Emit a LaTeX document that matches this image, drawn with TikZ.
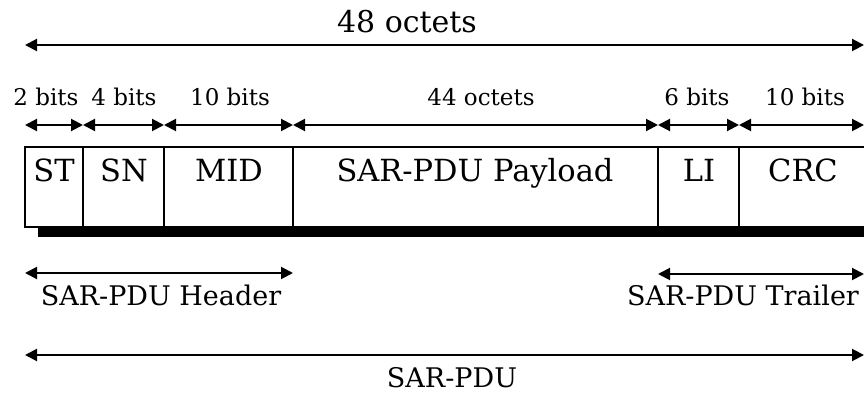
\documentclass[tikz,border=0pt]{standalone}
\usepackage{fontspec}
\setmainfont{DejaVu Serif}
\usetikzlibrary{arrows.meta}
\begin{document}
\begin{tikzpicture}[x=1pt,y=-1pt,
  dim/.style={{Triangle[length=12pt,width=12pt]}-{Triangle[length=12pt,width=12pt]}, line width=2pt},
  field/.style={draw, line width=2pt, fill=white},
  shadow/.style={fill=black},
  boxlbl/.style={anchor=base, inner sep=0pt, font=\fontsize{30.5}{36}\selectfont},
  bitlbl/.style={anchor=base, inner sep=0pt, font=\fontsize{23}{27}\selectfont},
  biglbl/.style={anchor=base, inner sep=0pt, font=\fontsize{30}{36}\selectfont},
  seclbl/.style={anchor=base, inner sep=0pt, font=\fontsize{27}{32}\selectfont}]
\useasboundingbox (0,0) rectangle (864,395);
% division points
\coordinate (a0) at (25,0);
\coordinate (a1) at (83,0);
\coordinate (a2) at (164,0);
\coordinate (a3) at (293,0);
\coordinate (a4) at (658,0);
\coordinate (a5) at (739,0);
\coordinate (a6) at (864,0);
% shadow and fields
\fill[shadow] (38,226) rectangle (880,237);
\draw[field] (25,147) rectangle (83,227);
\draw[field] (83,147) rectangle (164,227);
\draw[field] (164,147) rectangle (293,227);
\draw[field] (293,147) rectangle (658,227);
\draw[field] (658,147) rectangle (739,227);
\draw[field] (739,147) rectangle (880,227);
\node[boxlbl] (st) at (54,182) {ST};
\node[boxlbl] (sn) at (124,182) {SN};
\node[boxlbl] (mid) at (229,182) {MID};
\node[boxlbl] (pay) at (475,182) {SAR-PDU Payload};
\node[boxlbl] (li) at (699,182) {LI};
\node[boxlbl] (crc) at (803,182) {CRC};
% top total
\node[biglbl] (tot) at (407,33) {48 octets};
\draw[dim] (a0 |- 0,45) -- (a6 |- 0,45);
% bit row
\node[bitlbl] (b1) at (46,106) {2 bits};
\node[bitlbl] (b2) at (124,106) {4 bits};
\node[bitlbl] (b3) at (230,106) {10 bits};
\node[bitlbl] (b4) at (481,106) {44 octets};
\node[bitlbl] (b5) at (697,106) {6 bits};
\node[bitlbl] (b6) at (805,106) {10 bits};
\draw[dim] (a0 |- 0,125) -- (a1 |- 0,125);
\draw[dim] (a1 |- 0,125) -- (a2 |- 0,125);
\draw[dim] (a2 |- 0,125) -- (a3 |- 0,125);
\draw[dim] (a3 |- 0,125) -- (a4 |- 0,125);
\draw[dim] (a4 |- 0,125) -- (a5 |- 0,125);
\draw[dim] (a5 |- 0,125) -- (a6 |- 0,125);
% header / trailer
\draw[dim] (a0 |- 0,273) -- (a3 |- 0,273);
\node[seclbl] (hdr) at (161,305) {SAR-PDU Header};
\draw[dim] (a4 |- 0,274) -- (a6 |- 0,274);
\node[seclbl] (trl) at (743,305) {SAR-PDU Trailer};
% whole
\draw[dim] (a0 |- 0,355) -- (a6 |- 0,355);
\node[seclbl] (pdu) at (452,387) {SAR-PDU};
\end{tikzpicture}
\end{document}
